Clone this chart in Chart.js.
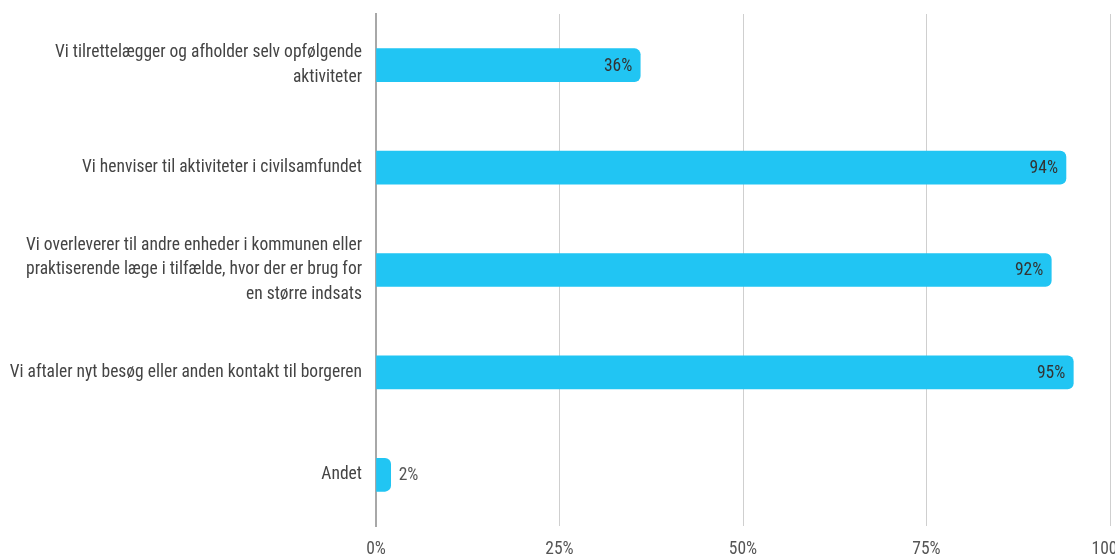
<!DOCTYPE html>
<html>
<head>
<meta charset="utf-8">
<script src="https://cdn.jsdelivr.net/npm/chart.js@4/dist/chart.umd.min.js"></script>
<style>
  html, body { margin: 0; padding: 0; background: #fff; }
  #wrap { width: 1115px; height: 556px; }
</style>
</head>
<body>
<div id="wrap"><canvas id="barChart"></canvas></div>
<script>
// kategorier (flere linjer pr. label)
const categories = [
    ['Vi tilrettelægger og afholder selv opfølgende', 'aktiviteter'],
    'Vi henviser til aktiviteter i civilsamfundet',
    ['Vi overleverer til andre enheder i kommunen eller', 'praktiserende læge i tilfælde, hvor der er brug for', 'en større indsats'],
    'Vi aftaler nyt besøg eller anden kontakt til borgeren',
    'Andet'
];
// andel i procent
const shares = [36, 94, 92, 95, 2];
// x-aksens ticks
const xTicks = [0, 25, 50, 75, 100];

const FONT = "'Roboto Condensed', 'Liberation Sans Narrow', 'Arial Narrow', Roboto, sans-serif";

// tegner procentsatsen i enden af hver søjle
const valueLabels = {
    id: 'valueLabels',
    afterDatasetsDraw(chart) {
        const ctx = chart.ctx;
        const meta = chart.getDatasetMeta(0);
        ctx.save();
        ctx.font = '17.5px ' + FONT;
        ctx.textBaseline = 'middle';
        meta.data.forEach((bar, i) => {
            const txt = shares[i] + '%';
            const w = ctx.measureText(txt).width;
            const barLen = bar.x - bar.base;
            if (barLen > w + 16) {
                ctx.textAlign = 'right';
                ctx.fillStyle = '#333';
                ctx.fillText(txt, bar.x - 8, bar.y + 1);
            } else {
                ctx.textAlign = 'left';
                ctx.fillStyle = '#555';
                ctx.fillText(txt, bar.x + 8, bar.y + 1);
            }
        });
        ctx.restore();
    }
};

new Chart(document.getElementById('barChart'), {
    type: 'bar',
    data: {
        labels: categories,
        datasets: [{
            data: shares,
            backgroundColor: '#21c5f3',
            borderRadius: 6,
            borderSkipped: 'start',
            barThickness: 33
        }]
    },
    options: {
        indexAxis: 'y',
        responsive: true,
        maintainAspectRatio: false,
        animation: false,
        layout: { padding: { top: 14, right: 5, bottom: 0, left: 0 } },
        plugins: {
            legend: { display: false },
            tooltip: { enabled: false }
        },
        scales: {
            x: {
                min: 0,
                max: 100,
                afterBuildTicks(scale) {
                    scale.ticks = xTicks.map(v => ({ value: v }));
                },
                afterFit(scale) {
                    // lad "100%" gå ud over kanten
                    scale.paddingRight = 0;
                    scale.paddingLeft = 0;
                    scale.height = 30;
                },
                grid: { color: '#cfcfcf', lineWidth: 1, drawTicks: false },
                border: { display: false },
                ticks: {
                    padding: 13,
                    color: '#555',
                    font: { family: FONT, size: 17.5 },
                    callback: v => v + '%'
                }
            },
            y: {
                afterFit(scale) {
                    scale.width = 376;
                    scale.paddingTop = 0;
                    scale.paddingBottom = 0;
                },
                grid: { display: false, drawTicks: false },
                border: { display: true, color: '#a8a8a8', width: 2 },
                ticks: {
                    padding: 14,
                    color: '#444',
                    font: { family: FONT, size: 17.5, lineHeight: 1.4 }
                }
            }
        }
    },
    plugins: [valueLabels]
});
</script>
</body>
</html>
